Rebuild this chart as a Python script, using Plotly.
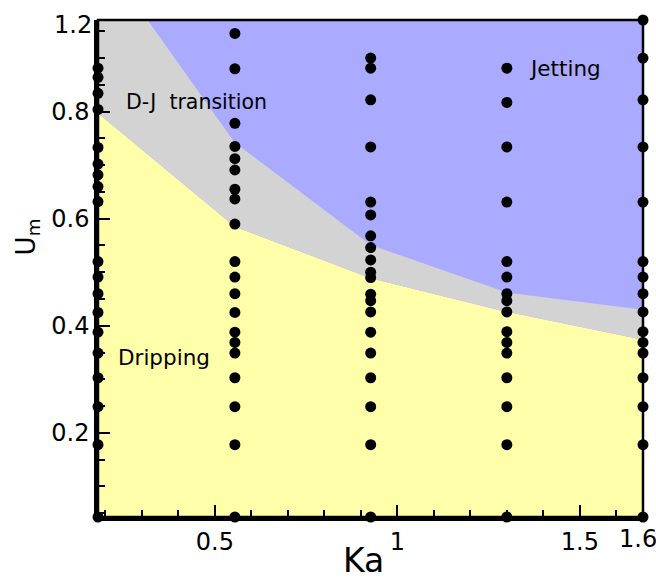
import plotly.graph_objects as go

# ---------------- data ----------------
ka_columns = [0.18, 0.555, 0.927, 1.30, 1.673]

um_col1 = [0.881, 0.864, 0.834, 0.804, 0.733, 0.702, 0.682, 0.660, 0.632, 0.520,
           0.491, 0.460, 0.425, 0.388, 0.349, 0.303, 0.249, 0.178, 0.043]
um_col2 = [0.946, 0.880, 0.778, 0.735, 0.712, 0.691, 0.655, 0.637, 0.590, 0.520,
           0.491, 0.460, 0.425, 0.388, 0.369, 0.349, 0.303, 0.249, 0.178, 0.043]
um_col3 = [0.900, 0.881, 0.822, 0.734, 0.631, 0.607, 0.568, 0.546, 0.523, 0.500,
           0.490, 0.459, 0.447, 0.426, 0.388, 0.349, 0.303, 0.249, 0.178, 0.043]
um_col4 = [0.881, 0.817, 0.734, 0.631, 0.520, 0.491, 0.460, 0.447, 0.426, 0.389,
           0.369, 0.349, 0.303, 0.249, 0.178, 0.043]
um_col5 = [0.971, 0.900, 0.822, 0.734, 0.631, 0.520, 0.491, 0.460, 0.426, 0.389,
           0.369, 0.349, 0.303, 0.249, 0.178, 0.043]
um_columns = [um_col1, um_col2, um_col3, um_col4, um_col5]

# regime boundaries evaluated at the Ka columns
boundary_dripping = [0.797, 0.585, 0.489, 0.426, 0.374]   # dripping / transition
boundary_jetting = [1.101, 0.742, 0.551, 0.462, 0.430]    # transition / jetting

region_labels = ["D-J\u00a0 transition", "Dripping", "Jetting"]
x_end_label = "1.6"
y_end_label = "1.2"

# ---------------- styles ----------------
YELLOW = "#FFFFAA"
GRAY = "#D3D3D3"
BLUE = "#AAAAFF"
FONT = "DejaVu Sans"

pts_x, pts_y = [], []
for k, col in zip(ka_columns, um_columns):
    pts_x += [k] * len(col)
    pts_y += col

xmin, xmax = min(ka_columns), max(ka_columns)
ymin, ymax = min(pts_y), max(pts_y)

fig = go.Figure()
fig.add_trace(go.Scatter(x=ka_columns, y=boundary_dripping, mode="lines",
                         line=dict(width=0), fill="tozeroy", fillcolor=YELLOW,
                         hoverinfo="skip", showlegend=False))
fig.add_trace(go.Scatter(x=ka_columns, y=boundary_jetting, mode="lines",
                         line=dict(width=0), fill="tonexty", fillcolor=GRAY,
                         hoverinfo="skip", showlegend=False))
fig.add_trace(go.Scatter(x=pts_x, y=pts_y, mode="markers",
                         marker=dict(color="black", size=11),
                         cliponaxis=False, showlegend=False))

axis_common = dict(showline=True, linecolor="black", linewidth=3.5, mirror=False,
                   ticks="inside", ticklen=12, tickwidth=2, tickcolor="black",
                   showgrid=False, zeroline=False,
                   tickfont=dict(family=FONT, size=24, color="black"))

fig.update_layout(
    width=656, height=579,
    margin=dict(l=98, r=13, t=20, b=62),
    paper_bgcolor="white", plot_bgcolor=BLUE,
    showlegend=False,
    xaxis=dict(range=[xmin, xmax], tickmode="linear", tick0=0, dtick=0.5,
               minor=dict(dtick=0.1, tick0=0, ticks="inside", ticklen=7,
                          tickwidth=1.5, tickcolor="black"),
               **axis_common),
    yaxis=dict(range=[ymin, ymax], tickmode="linear", tick0=0, dtick=0.2,
               minor=dict(dtick=0.05, tick0=0, ticks="inside", ticklen=7,
                          tickwidth=1.5, tickcolor="black"),
               **axis_common),
)

# frame (top and right edges)
fig.add_shape(type="rect", xref="paper", yref="paper", x0=0, x1=1, y0=0, y1=1,
              line=dict(color="black", width=2.5), fillcolor="rgba(0,0,0,0)",
              layer="above")

fig.add_annotation(x=0.251, y=0.818, xref="x", yref="y", text=region_labels[0],
                   showarrow=False, xanchor="left", yanchor="middle",
                   font=dict(family=FONT, size=20.5, color="black"))
fig.add_annotation(x=0.229, y=0.340, xref="x", yref="y", text=region_labels[1],
                   showarrow=False, xanchor="left", yanchor="middle",
                   font=dict(family=FONT, size=21.5, color="black"))
fig.add_annotation(x=1.354, y=0.880, xref="x", yref="y", text=region_labels[2],
                   showarrow=False, xanchor="left", yanchor="middle",
                   font=dict(family=FONT, size=21.5, color="black"))

tick = dict(family=FONT, size=24, color="black")
fig.add_annotation(x=1.659, y=0, xref="x", yref="paper", text=x_end_label,
                   showarrow=False, xanchor="center", yanchor="top", yshift=-6,
                   font=tick)
fig.add_annotation(x=0, y=0.962, xref="paper", yref="y", text=y_end_label,
                   showarrow=False, xanchor="right", yanchor="middle", xshift=-4,
                   font=tick)

# axis titles
fig.add_annotation(x=0.908, y=-62 / 497, xref="x", yref="paper", text="Ka",
                   showarrow=False, xanchor="center", yanchor="bottom", yshift=-3,
                   font=dict(family=FONT, size=33, color="black"))
fig.add_annotation(x=-0.129, y=0.564, xref="paper", yref="paper",
                   text="U<sub>m</sub>", textangle=-90,
                   showarrow=False, xanchor="center", yanchor="middle",
                   font=dict(family=FONT, size=26, color="black"))

fig.write_html("out.html",
               config={"displayModeBar": False},
               post_script="document.body.style.margin='0px';"
                           "document.body.style.padding='0px';")
